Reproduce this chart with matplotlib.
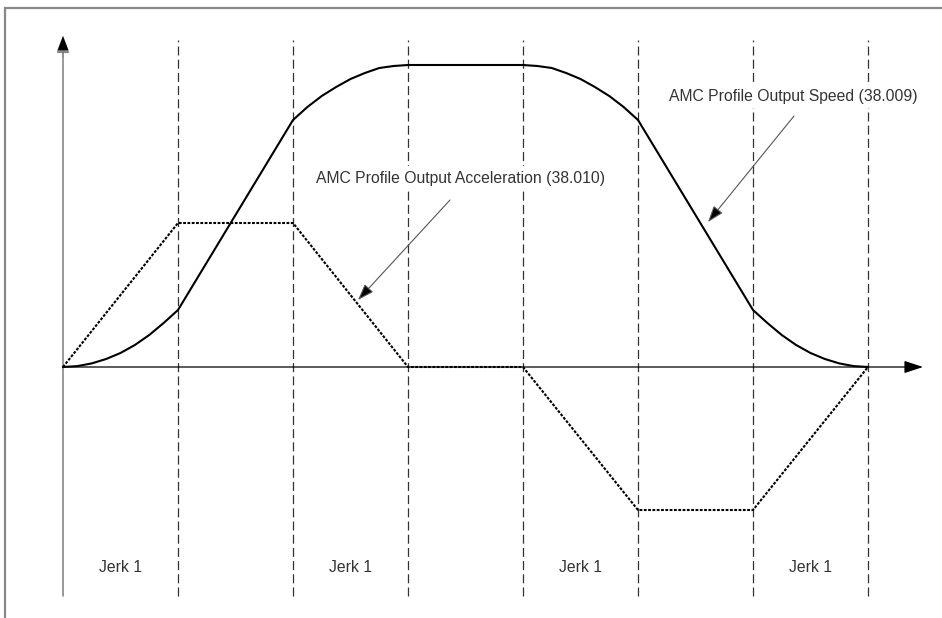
import matplotlib
matplotlib.use("Agg")
import matplotlib.pyplot as plt
from matplotlib.patches import Rectangle

plt.rcParams['font.family'] = ['Liberation Sans', 'DejaVu Sans']
plt.rcParams['lines.scale_dashes'] = False

# ---- data (time in jerk-segment units, values in arbitrary height units) ----
phase_bounds = [1, 2, 3, 4, 5, 6, 7]

accel_t = [0, 1, 2, 3, 4, 5, 6, 7]
accel_v = [0, 144, 144, 0, 0, -143, -143, 0]

speed_t = [0, 0.125, 0.25, 0.375, 0.5, 0.625, 0.75, 0.875, 1.0,
           1.5, 2.0,
           2.125, 2.25, 2.375, 2.5, 2.625, 2.75, 2.875, 3.0,
           4.0,
           4.125, 4.25, 4.375, 4.5, 4.625, 4.75, 4.875, 5.0,
           5.5, 6.0,
           6.125, 6.25, 6.375, 6.5, 6.625, 6.75, 6.875, 7.0]
speed_v = [0, 0.9, 3.6, 8, 14, 22, 32, 44, 57,
           152, 247,
           260, 271, 280, 288, 294, 299, 301, 302,
           302,
           301, 299, 294, 288, 280, 271, 260, 247,
           152, 57,
           44, 32, 22, 14, 8, 3.6, 0.9, 0]

jerk_labels = ["Jerk 1", "Jerk 1", "Jerk 1", "Jerk 1"]
jerk_pos = [0.5, 2.5, 4.5, 6.5]

speed_label = "AMC Profile Output Speed (38.009)"
accel_label = "AMC Profile Output Acceleration (38.010)"

# ---- figure ----
W, H = 942, 618
fig = plt.figure(figsize=(W / 100, H / 100), dpi=100)
ax = fig.add_axes([0, 0, 1, 1])
ax.set_xlim(-63 / 115, (W - 63) / 115)
ax.set_ylim(367 - H, 367)
ax.axis('off')

# outer border (extends beyond right/bottom edges)
fig.patches.append(Rectangle((5 / W, -0.1), 1.2, 1 - 8 / H + 0.1,
                             transform=fig.transFigure, fill=False,
                             edgecolor='#888888', linewidth=1.6))

# dashed phase boundaries
for b in phase_bounds:
    ax.plot([b, b], [-229, 327], color='#333333', lw=0.9,
            linestyle=(0, (6.5, 3.0)), zorder=1)

# axes arrows
ax.annotate('', xy=(0, 331), xytext=(0, -229),
            arrowprops=dict(arrowstyle='-|>,head_length=1.0,head_width=0.38',
                            color='#888888', lw=1.2, shrinkA=0, shrinkB=0))
ax.annotate('', xy=(0, 331), xytext=(0, 310),
            arrowprops=dict(arrowstyle='-|>,head_length=1.0,head_width=0.38',
                            color='black', lw=0.1, shrinkA=0, shrinkB=0))
ax.annotate('', xy=((923 - 63) / 115, 0), xytext=(0, 0),
            arrowprops=dict(arrowstyle='-|>,head_length=1.15,head_width=0.38',
                            color='black', lw=0.9, shrinkA=0, shrinkB=0))

# curves
ax.plot(accel_t, accel_v, color='black', lw=1.5, linestyle=(0, (2.0, 1.1)),
        zorder=3)
ax.plot(speed_t, speed_v, color='black', lw=1.5, zorder=4,
        solid_joinstyle='round')

# labels
FS = 11.3
for lab, p in zip(jerk_labels, jerk_pos):
    ax.text(p, 367 - 567, lab, ha='center', va='center', fontsize=FS,
            color='#333333')

box = dict(facecolor='white', edgecolor='none', pad=3)
ax.text((793 - 63) / 115, 367 - 96, speed_label, ha='center', va='center',
        fontsize=FS, color='#333333', bbox=box, zorder=2)
ax.text((460 - 63) / 115, 367 - 178, accel_label, ha='center', va='center',
        fontsize=FS, color='#333333', bbox=box, zorder=2)

# pointer arrows
ax.annotate('', xy=((708 - 63) / 115, 367 - 222),
            xytext=((794 - 63) / 115, 367 - 116),
            arrowprops=dict(arrowstyle='-|>,head_length=1.0,head_width=0.35',
                            color='#555555', fc='black', ec='#555555',
                            lw=0.8, shrinkA=0, shrinkB=0), zorder=5)
ax.annotate('', xy=((358 - 63) / 115, 367 - 300),
            xytext=((450 - 63) / 115, 367 - 200),
            arrowprops=dict(arrowstyle='-|>,head_length=1.0,head_width=0.35',
                            color='#555555', fc='black', ec='#555555',
                            lw=0.8, shrinkA=0, shrinkB=0), zorder=5)

fig.savefig('out.png', dpi=100, facecolor='white')
